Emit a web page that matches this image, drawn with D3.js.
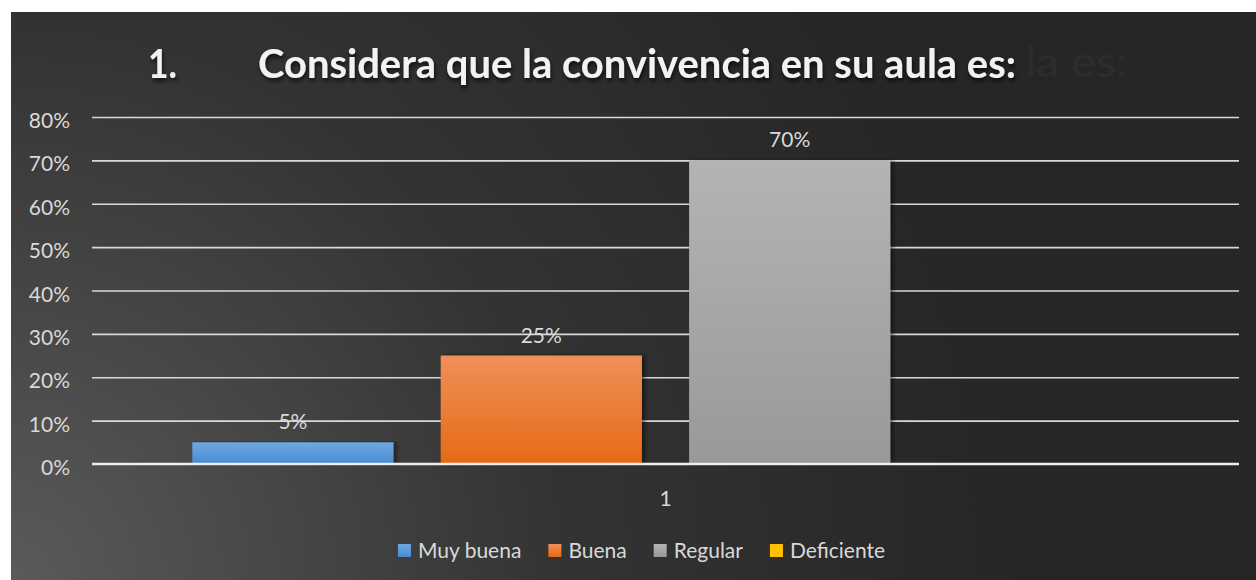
<!DOCTYPE html>
<html><head><meta charset="utf-8">
<script src="https://cdn.jsdelivr.net/npm/d3@7"></script>
<style>html,body{margin:0;padding:0;background:#fff;}svg{display:block;}</style>
</head><body>
<svg id="c" width="1256" height="580"></svg>
<script>
const categories = ["1"];
const series = ["Muy buena", "Buena", "Regular", "Deficiente"];
const values = [0.05, 0.25, 0.70, 0.00];
const yTickValues = [0, 0.1, 0.2, 0.3, 0.4, 0.5, 0.6, 0.7, 0.8];
const titleNumber = "1.";
const titleText = "Considera que la convivencia en su aula es:";
const ghostTail = "la es:";
const colorsTop = ["#6ea8e2", "#f0905a", "#b4b4b4", "#ffc000"];
const colorsBottom = ["#4a8bd0", "#e56a14", "#999999", "#ffc000"];

const FONT = "Lato, 'Open Sans', sans-serif";
const svg = d3.select("#c");
const defs = svg.append("defs");

const bg = defs.append("radialGradient").attr("id", "bg")
  .attr("gradientUnits", "userSpaceOnUse")
  .attr("cx", 11).attr("cy", 580).attr("r", 1000);
bg.append("stop").attr("offset", 0).attr("stop-color", "#5a5a5a");
bg.append("stop").attr("offset", 0.55).attr("stop-color", "#333333");
bg.append("stop").attr("offset", 1).attr("stop-color", "#262626");

series.forEach((s, i) => {
  const g = defs.append("linearGradient").attr("id", "g" + i)
    .attr("x1", 0).attr("y1", 0).attr("x2", 0).attr("y2", 1);
  g.append("stop").attr("offset", 0).attr("stop-color", colorsTop[i]);
  g.append("stop").attr("offset", 1).attr("stop-color", colorsBottom[i]);
});

const sh = defs.append("filter").attr("id", "tsh").attr("x", "-5%").attr("y", "-30%").attr("width", "110%").attr("height", "160%");
sh.append("feDropShadow").attr("dx", 1).attr("dy", 3).attr("stdDeviation", 2).attr("flood-color", "#000").attr("flood-opacity", 0.7);
const bsh = defs.append("filter").attr("id", "bsh").attr("x", "-5%").attr("y", "-5%").attr("width", "115%").attr("height", "110%");
bsh.append("feDropShadow").attr("dx", 3).attr("dy", 0).attr("stdDeviation", 2).attr("flood-color", "#000").attr("flood-opacity", 0.5);

svg.append("rect").attr("x", 11).attr("y", 12).attr("width", 1245).attr("height", 568).attr("fill", "url(#bg)");

// Scales
const y = d3.scaleLinear().domain([0, 0.8]).range([464, 117]);
const x0 = d3.scaleBand().domain(categories).range([92, 1239]).paddingOuter(0.106);
const x1 = d3.scaleBand().domain(series).range([0, x0.bandwidth()]).paddingInner(0.19);

// Ghost title tail (faint echo visible past the title)
svg.append("text").attr("x", 1025).attr("y", 77)
  .attr("font-family", FONT).attr("font-size", 42).attr("font-weight", 400)
  .attr("fill", "#2d2d2d").attr("textLength", 103).attr("lengthAdjust", "spacingAndGlyphs")
  .text(ghostTail);

// Title
const tg = svg.append("g").attr("filter", "url(#tsh)");
tg.append("text").attr("x", 148).attr("y", 78)
  .attr("font-family", FONT).attr("font-size", 40).attr("font-weight", 700)
  .attr("fill", "#f2f2f2").attr("textLength", 29).attr("lengthAdjust", "spacingAndGlyphs")
  .text(titleNumber);
tg.append("text").attr("x", 258).attr("y", 78)
  .attr("font-family", FONT).attr("font-size", 40).attr("font-weight", 700)
  .attr("fill", "#f2f2f2").attr("textLength", 758).attr("lengthAdjust", "spacingAndGlyphs")
  .text(titleText);

// Gridlines
svg.append("g").attr("transform", "translate(92,0)")
  .call(d3.axisRight(y).tickValues(yTickValues.filter(v => v > 0)).tickSize(1239 - 92).tickFormat(""))
  .call(g => g.select(".domain").remove())
  .call(g => g.selectAll("line").attr("stroke", "#d9d9d9").attr("stroke-width", 1.6));

// Y labels
svg.append("g").attr("transform", "translate(70,0)")
  .call(d3.axisLeft(y).tickValues(yTickValues).tickSize(0).tickPadding(0).tickFormat(d3.format(".0%")))
  .call(g => g.select(".domain").remove())
  .call(g => g.selectAll("text").attr("font-family", FONT).attr("font-size", 21).attr("fill", "#d9d9d9").attr("dy", "0.5em"));

// Bars
const bars = svg.append("g").attr("transform", `translate(${x0(categories[0])},0)`);
bars.selectAll("rect").data(series.map((s, i) => ({ s, v: values[i], i })))
  .join("rect")
  .attr("x", d => x1(d.s)).attr("y", d => y(d.v))
  .attr("width", x1.bandwidth()).attr("height", d => y(0) - y(d.v))
  .attr("fill", d => `url(#g${d.i})`).attr("filter", "url(#bsh)");

// Baseline
svg.append("line").attr("x1", 92).attr("x2", 1239).attr("y1", y(0)).attr("y2", y(0))
  .attr("stroke", "#eeeeee").attr("stroke-width", 2.6);

// Value labels
bars.selectAll("text.v").data(series.map((s, i) => ({ s, v: values[i] })).filter(d => d.v > 0))
  .join("text").attr("class", "v")
  .attr("x", d => x1(d.s) + x1.bandwidth() / 2).attr("y", d => y(d.v) - 13)
  .attr("text-anchor", "middle").attr("font-family", FONT).attr("font-size", 21).attr("fill", "#d9d9d9")
  .text(d => d3.format(".0%")(d.v));

// Category label
svg.append("g").attr("transform", `translate(0,${y(0) + 27})`)
  .call(d3.axisBottom(x0).tickSize(0).tickPadding(0))
  .call(g => g.select(".domain").remove())
  .call(g => g.selectAll("text").attr("font-family", FONT).attr("font-size", 21).attr("fill", "#d9d9d9").attr("dy", "0.71em"));

// Legend
const lg = svg.append("g");
const items = lg.selectAll("g").data(series).join("g");
items.append("rect").attr("width", 13).attr("height", 13).attr("y", 544)
  .attr("fill", (d, i) => `url(#g${i})`);
items.append("text").attr("y", 558).attr("font-family", FONT).attr("font-size", 21).attr("fill", "#d9d9d9").text(d => d);
let widths = [];
items.each(function () { widths.push(d3.select(this).select("text").node().getComputedTextLength()); });
const gap = 27, sq = 13, sqGap = 7;
const total = d3.sum(widths) + series.length * (sq + sqGap) + (series.length - 1) * gap;
let cx = 641.5 - total / 2;
items.each(function (d, i) {
  const g = d3.select(this);
  g.select("rect").attr("x", cx);
  g.select("text").attr("x", cx + sq + sqGap);
  cx += sq + sqGap + widths[i] + gap;
});
</script>
</body></html>
